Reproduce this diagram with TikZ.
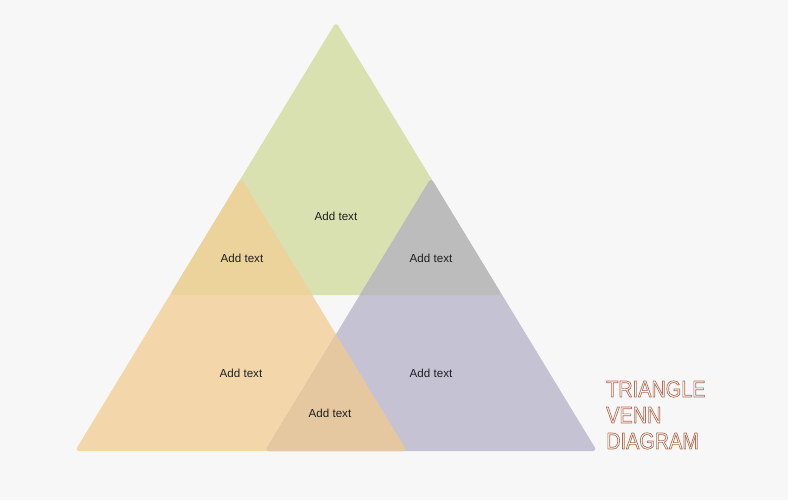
\documentclass[tikz,border=0pt]{standalone}
\usepackage{fontspec}
\setmainfont{Liberation Sans}
\newfontfamily\titlefont[FakeStretch=0.85]{Liberation Sans}
\definecolor{pagebg}{RGB}{247,247,247}
\definecolor{leafgreen}{RGB}{217,225,176}
\definecolor{peach}{RGB}{243,215,170}
\definecolor{lilac}{RGB}{197,194,212}
\definecolor{greenpeach}{RGB}{236,210,155}
\definecolor{greenlilac}{RGB}{188,188,188}
\definecolor{peachlilac}{RGB}{229,199,160}
\definecolor{titlebrown}{RGB}{178,110,82}
\newcommand{\outlined}[1]{\special{pdf:literal direct 1 Tr 0.5 w}#1\special{pdf:literal direct 0 Tr}}

\begin{document}
\begin{tikzpicture}[line cap=round,line join=round,x=0.75pt,y=-0.75pt,
		addtext/.style={font=\fontsize{8.7}{10}\selectfont,text=black!88}]
			\fill [pagebg] (0,0) rectangle (788,500);
			\useasboundingbox (0,0) rectangle (788,500);
			\coordinate (gtop) at (336,22);
			\coordinate (gright) at (502,295);
			\coordinate (gleft) at (170,295);
			\coordinate (otop) at (241,178);
			\coordinate (oright) at (407,451);
			\coordinate (oleft) at (75,451);
			\coordinate (ptop) at (431,178);
			\coordinate (pright) at (597,451);
			\coordinate (pleft) at (265,451);
			\fill [leafgreen,rounded corners=3pt] (gtop) -- (gright) -- (gleft) -- cycle;
			\fill [peach,rounded corners=3pt] (otop) -- (oright) -- (oleft) -- cycle;
			\fill [lilac,rounded corners=3pt] (ptop) -- (pright) -- (pleft) -- cycle;
			\begin{scope}
				\clip [rounded corners=3pt] (gtop) -- (gright) -- (gleft) -- cycle;
				\fill [greenpeach,rounded corners=3pt] (otop) -- (oright) -- (oleft) -- cycle;
				\fill [greenlilac,rounded corners=3pt] (ptop) -- (pright) -- (pleft) -- cycle;
			\end{scope}
			\begin{scope}
				\clip [rounded corners=3pt] (otop) -- (oright) -- (oleft) -- cycle;
				\fill [peachlilac,rounded corners=3pt] (ptop) -- (pright) -- (pleft) -- cycle;
			\end{scope}
			\node [addtext] (green) at (336,216) {Add text};
			\node [addtext] (greenpeach) at (242,258) {Add text};
			\node [addtext] (greenlilac) at (431,258) {Add text};
			\node [addtext] (peach) at (241,373) {Add text};
			\node [addtext] (lilac) at (431,373) {Add text};
			\node [addtext] (peachlilac) at (330,413) {Add text};
			\node [anchor=west,align=left,inner sep=0pt,text=titlebrown,
				font=\titlefont\fontsize{17.5}{19.5}\selectfont] (title) at (606,415)
				{\outlined{TRIANGLE}\\\outlined{VENN}\\\outlined{DIAGRAM}};
		\end{tikzpicture}
\end{document}
